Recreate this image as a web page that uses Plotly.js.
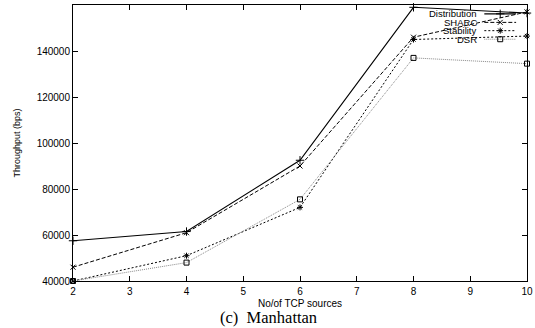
<!DOCTYPE html>
<html><head><meta charset="utf-8">
<script src="https://cdn.plot.ly/plotly-3.0.1.min.js"></script>
<style>html,body{margin:0;padding:0;background:#fff;}#chart{width:535px;height:328px;}</style>
</head><body><div id="chart"></div>
<script>
const sources = [2, 4, 6, 8, 10];
const distribution = [57500, 61500, 92500, 159000, 156500];
const sharc = [46000, 61000, 90000, 146000, 157000];
const stability = [40000, 51000, 72000, 145000, 146500];
const dsr = [40000, 48000, 75500, 137000, 134500];
const seriesNames = ['Distribution', 'SHARC', 'Stability', 'DSR'];
const xTicks = [2, 3, 4, 5, 6, 7, 8, 9, 10];
const yTicks = [40000, 60000, 80000, 100000, 120000, 140000, 160000];

const styles = [
  {color: '#000', dash: 'solid', width: 1.1, symbol: 'cross-thin-open', size: 6},
  {color: '#000', dash: '4px,2px', width: 1, symbol: 'x-thin-open', size: 5},
  {color: '#000', dash: '2px,2px', width: 1, symbol: 'asterisk-open', size: 5},
  {color: '#888', dash: '1px,1px', width: 1, symbol: 'square-open', size: 5}
];
const values = [distribution, sharc, stability, dsr];

const traces = values.map((v, i) => ({
  x: sources, y: v, type: 'scatter', mode: 'lines+markers', name: seriesNames[i],
  line: {color: styles[i].color, dash: styles[i].dash, width: styles[i].width},
  marker: {symbol: styles[i].symbol, size: styles[i].size, color: '#000', line: {color: '#000', width: 1}},
  showlegend: false, cliponaxis: false
}));

// gnuplot-style key: text right-aligned, sample to the right
const keyRows = [0.968, 0.937, 0.907, 0.876];
const annotations = [];
seriesNames.forEach((n, i) => {
  traces.push({
    x: [0.906, 0.976], y: [keyRows[i], keyRows[i]], xaxis: 'x2', yaxis: 'y2',
    type: 'scatter', mode: 'lines', showlegend: false, hoverinfo: 'skip',
    line: {color: styles[i].color, dash: styles[i].dash, width: styles[i].width}
  });
  traces.push({
    x: [0.941], y: [keyRows[i]], xaxis: 'x2', yaxis: 'y2',
    type: 'scatter', mode: 'markers', showlegend: false, hoverinfo: 'skip',
    marker: {symbol: styles[i].symbol, size: styles[i].size, color: '#000', line: {color: '#000', width: 1}}
  });
  annotations.push({
    xref: 'paper', yref: 'paper', x: 0.892, y: keyRows[i], xanchor: 'right', yanchor: 'middle',
    text: n, showarrow: false, borderpad: 0,
    font: {family: 'Liberation Sans, Arial', size: 9.5, color: '#000'}
  });
});
annotations.push({
  xref: 'paper', yref: 'paper', x: 0.43, y: -0.134, xanchor: 'center', yanchor: 'middle',
  text: '(c)  Manhattan', showarrow: false, borderpad: 0,
  font: {family: 'Liberation Serif, Times New Roman, serif', size: 16.5, color: '#000'}
});

const layout = {
  width: 535, height: 328,
  margin: {l: 73, r: 8, t: 5, b: 47},
  paper_bgcolor: '#fff', plot_bgcolor: '#fff',
  font: {family: 'Liberation Sans, Arial', size: 10, color: '#000'},
  showlegend: false,
  xaxis: {
    range: [2, 10], tickvals: xTicks, ticktext: xTicks.map(String),
    showline: true, linecolor: '#000', linewidth: 1, mirror: 'ticks',
    ticks: 'inside', ticklen: 5, tickcolor: '#000', showgrid: false, zeroline: false,
    tickfont: {size: 10}, ticklabelstandoff: 1,
    title: {text: 'No/of TCP sources', font: {size: 10}, standoff: 3}
  },
  yaxis: {
    range: [40000, 160000], tickvals: yTicks, ticktext: yTicks.map(String),
    showline: true, linecolor: '#000', linewidth: 1, mirror: 'ticks',
    ticks: 'inside', ticklen: 5, tickcolor: '#000', showgrid: false, zeroline: false,
    tickfont: {size: 10},
    title: {text: 'Throughput (bps)', font: {size: 9}, standoff: 14}
  },
  xaxis2: {range: [0, 1], overlaying: 'x', visible: false, fixedrange: true},
  yaxis2: {range: [0, 1], overlaying: 'y', visible: false, fixedrange: true},
  annotations: annotations
};

Plotly.newPlot('chart', traces, layout, {displayModeBar: false, staticPlot: true});
</script></body></html>
